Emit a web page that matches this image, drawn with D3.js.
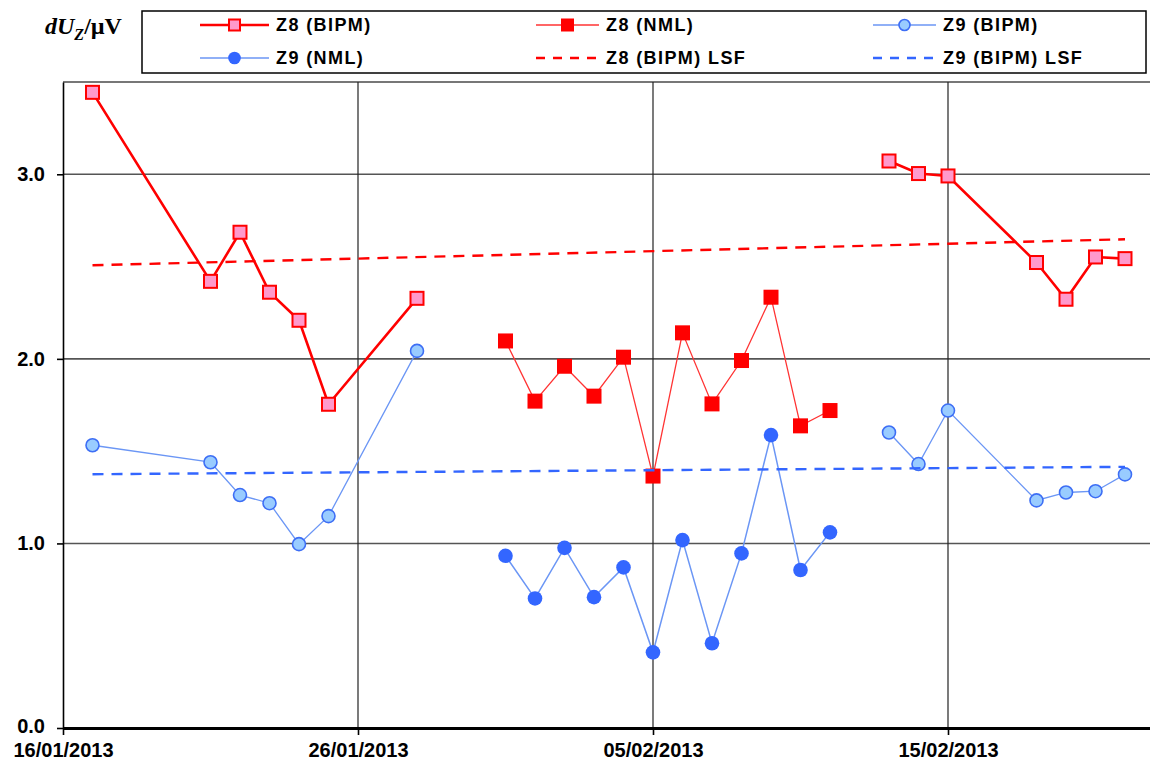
<!DOCTYPE html>
<html>
<head>
<meta charset="utf-8">
<script src="https://cdn.jsdelivr.net/npm/d3@7"></script>
<style>
  body { margin: 0; background: #fff; }
  svg { display: block; }
</style>
</head>
<body>
<div id="chart"></div>
<script>
// dates of the BIPM runs (null = break in the line)
const bipmDates = ["17/01/2013", "21/01/2013", "22/01/2013", "23/01/2013", "24/01/2013", "25/01/2013", "28/01/2013", null,
                   "13/02/2013", "14/02/2013", "15/02/2013", "18/02/2013", "19/02/2013", "20/02/2013", "21/02/2013"];
const z8Bipm = [3.444, 2.42, 2.686, 2.361, 2.209, 1.754, 2.328, null, 3.072, 3.004, 2.991, 2.522, 2.323, 2.552, 2.543];
const z9Bipm = [1.532, 1.44, 1.262, 1.218, 0.996, 1.148, 2.043, null, 1.601, 1.43, 1.72, 1.233, 1.276, 1.283, 1.374];

// dates of the NML runs
const nmlDates = ["31/01/2013", "01/02/2013", "02/02/2013", "03/02/2013", "04/02/2013", "05/02/2013",
                  "06/02/2013", "07/02/2013", "08/02/2013", "09/02/2013", "10/02/2013", "11/02/2013"];
const z8Nml = [2.097, 1.771, 1.96, 1.798, 2.009, 1.365, 2.141, 1.756, 1.991, 2.334, 1.637, 1.72];
const z9Nml = [0.933, 0.702, 0.976, 0.709, 0.87, 0.41, 1.018, 0.459, 0.946, 1.587, 0.856, 1.06];

// least-squares fits (end points)
const lsfDates = ["17/01/2013", "21/02/2013"];
const z8Lsf = [2.507, 2.648];
const z9Lsf = [1.375, 1.415];

const xTicks = ["16/01/2013", "26/01/2013", "05/02/2013", "15/02/2013"];
const yTicks = [0, 1, 2, 3];

const parse = d3.timeParse("%d/%m/%Y");
const width = 1150, height = 762;
const plotLeft = 63, plotTop = 82, plotBottom = 728;
const sans = "'Liberation Sans', Arial, sans-serif";

const svg = d3.select("#chart").append("svg")
    .attr("width", width)
    .attr("height", height)
    .style("font-family", sans);

const x = d3.scaleTime()
    .domain([parse("16/01/2013"), parse("22/02/2013")])
    .range([plotLeft, plotLeft + 37 * 29.5]);

const y = d3.scaleLinear()
    .domain([0, 3.5])
    .range([plotBottom, plotTop]);

const pts = (dates, vals) => dates.map((d, i) => ({ date: d ? parse(d) : null, v: vals[i] }));

// top border
svg.append("line")
    .attr("x1", plotLeft).attr("x2", width)
    .attr("y1", plotTop).attr("y2", plotTop)
    .attr("stroke", "#777").attr("stroke-width", 2);

// horizontal grid
svg.append("g").selectAll("line")
    .data(yTicks.filter(t => t > 0))
    .enter().append("line")
    .attr("x1", plotLeft).attr("x2", width)
    .attr("y1", d => y(d)).attr("y2", d => y(d))
    .attr("stroke", "#555").attr("stroke-width", 1.6);

// vertical grid
svg.append("g").selectAll("line")
    .data(xTicks.slice(1))
    .enter().append("line")
    .attr("x1", d => x(parse(d))).attr("x2", d => x(parse(d)))
    .attr("y1", plotTop).attr("y2", plotBottom)
    .attr("stroke", "#222").attr("stroke-width", 1.2);

// y axis
const yAxis = svg.append("g")
    .attr("transform", `translate(${plotLeft},0)`)
    .call(d3.axisLeft(y).tickValues(yTicks).tickFormat(d3.format(".1f")).tickSize(6).tickSizeOuter(0).tickPadding(12));
yAxis.select(".domain").attr("stroke", "#000").attr("stroke-width", 1.6);
yAxis.selectAll(".tick line").attr("stroke", "#000").attr("stroke-width", 1.6);
yAxis.selectAll("text")
    .attr("fill", "#000")
    .style("font-family", sans).style("font-size", "20px").style("font-weight", "bold");
yAxis.selectAll(".tick").filter(d => d === 0).select("text").attr("dy", "0.2em");

// x axis
const xAxis = svg.append("g")
    .attr("transform", `translate(0,${plotBottom})`)
    .call(d3.axisBottom(x).tickValues(xTicks.map(parse)).tickFormat(d3.timeFormat("%d/%m/%Y")).tickSize(7).tickSizeOuter(0).tickPadding(8));
xAxis.select(".domain").attr("stroke", "#000").attr("stroke-width", 3);
xAxis.selectAll(".tick line").attr("stroke", "#000").attr("stroke-width", 1.6);
xAxis.selectAll("text")
    .attr("fill", "#000")
    .style("font-family", sans).style("font-size", "20px").style("font-weight", "bold");

const line = d3.line()
    .defined(d => d.v !== null)
    .x(d => x(d.date))
    .y(d => y(d.v));

const series = [
    { key: "Z8 (BIPM)", data: pts(bipmDates, z8Bipm), stroke: "#ff0000", lw: 2.6, shape: "square", size: 13, fill: "#ff99cc", mstroke: "#ff0000", msw: 2 },
    { key: "Z8 (NML)", data: pts(nmlDates, z8Nml), stroke: "#ff3333", lw: 1.3, shape: "square", size: 15, fill: "#ff0000", mstroke: "none", msw: 0 },
    { key: "Z9 (BIPM)", data: pts(bipmDates, z9Bipm), stroke: "#6b96f5", lw: 1.3, shape: "circle", size: 6.5, fill: "#99ccff", mstroke: "#3d6ef5", msw: 1.6 },
    { key: "Z9 (NML)", data: pts(nmlDates, z9Nml), stroke: "#6b96f5", lw: 1.5, shape: "circle", size: 7.3, fill: "#3366ff", mstroke: "none", msw: 0 }
];

function drawMarkers(g, s, data) {
    if (s.shape === "square") {
        g.selectAll("rect")
            .data(data)
            .enter().append("rect")
            .attr("x", d => d.cx - s.size / 2)
            .attr("y", d => d.cy - s.size / 2)
            .attr("width", s.size).attr("height", s.size)
            .attr("fill", s.fill).attr("stroke", s.mstroke).attr("stroke-width", s.msw);
    } else {
        g.selectAll("circle")
            .data(data)
            .enter().append("circle")
            .attr("cx", d => d.cx).attr("cy", d => d.cy)
            .attr("r", s.size)
            .attr("fill", s.fill).attr("stroke", s.mstroke).attr("stroke-width", s.msw);
    }
}

series.forEach(s => {
    const g = svg.append("g");
    g.append("path")
        .datum(s.data)
        .attr("d", line)
        .attr("fill", "none")
        .attr("stroke", s.stroke)
        .attr("stroke-width", s.lw);
    drawMarkers(g, s, s.data.filter(d => d.v !== null).map(d => ({ cx: x(d.date), cy: y(d.v) })));
});

// LSF lines
const lsf = [
    { key: "Z8 (BIPM) LSF", data: pts(lsfDates, z8Lsf), stroke: "#ff0000" },
    { key: "Z9 (BIPM) LSF", data: pts(lsfDates, z9Lsf), stroke: "#3366ff" }
];
lsf.forEach(s => {
    svg.append("path")
        .datum(s.data)
        .attr("d", line)
        .attr("fill", "none")
        .attr("stroke", s.stroke)
        .attr("stroke-width", 2.4)
        .attr("stroke-dasharray", "11,8");
});

// y label
const ylab = svg.append("text")
    .attr("x", 45).attr("y", 34)
    .style("font-family", "'Liberation Serif', 'Times New Roman', serif")
    .style("font-size", "24px").style("font-weight", "bold");
ylab.append("tspan").style("font-style", "italic").text("dU");
ylab.append("tspan").style("font-style", "italic").style("font-size", "16px").attr("dy", 6).text("Z");
ylab.append("tspan").attr("dy", -6).text("/µV");

// legend
svg.append("rect")
    .attr("x", 142).attr("y", 11)
    .attr("width", 1004).attr("height", 62)
    .attr("fill", "#fff").attr("stroke", "#000").attr("stroke-width", 1.5);

const legendItems = [
    { s: series[0], col: 0, row: 0 },
    { s: series[1], col: 1, row: 0 },
    { s: series[2], col: 2, row: 0 },
    { s: series[3], col: 0, row: 1 },
    { s: lsf[0], col: 1, row: 1, dashed: true },
    { s: lsf[1], col: 2, row: 1, dashed: true }
];
const colX = [200, 536, 873];
const rowY = [25, 58];

legendItems.forEach(it => {
    const g = svg.append("g").attr("transform", `translate(${colX[it.col]},${rowY[it.row]})`);
    const len = it.col === 0 ? 69 : 63;
    if (it.dashed) {
        g.append("line")
            .attr("x1", 0).attr("x2", len).attr("y1", 0).attr("y2", 0)
            .attr("stroke", it.s.stroke).attr("stroke-width", 2.6)
            .attr("stroke-dasharray", "9,8");
    } else {
        g.append("line")
            .attr("x1", 0).attr("x2", len).attr("y1", 0).attr("y2", 0)
            .attr("stroke", it.s.stroke).attr("stroke-width", it.s.lw);
        const ms = Object.assign({}, it.s, { size: it.s.shape === "square" ? it.s.size - 2 : it.s.size - 1 });
        drawMarkers(g, ms, [{ cx: len / 2, cy: 0 }]);
    }
    g.append("text")
        .attr("x", len + 7).attr("y", 0).attr("dy", "0.35em")
        .style("font-size", "18px").style("font-weight", "bold")
        .attr("letter-spacing", 1.4)
        .text(it.s.key);
});
</script>
</body>
</html>
